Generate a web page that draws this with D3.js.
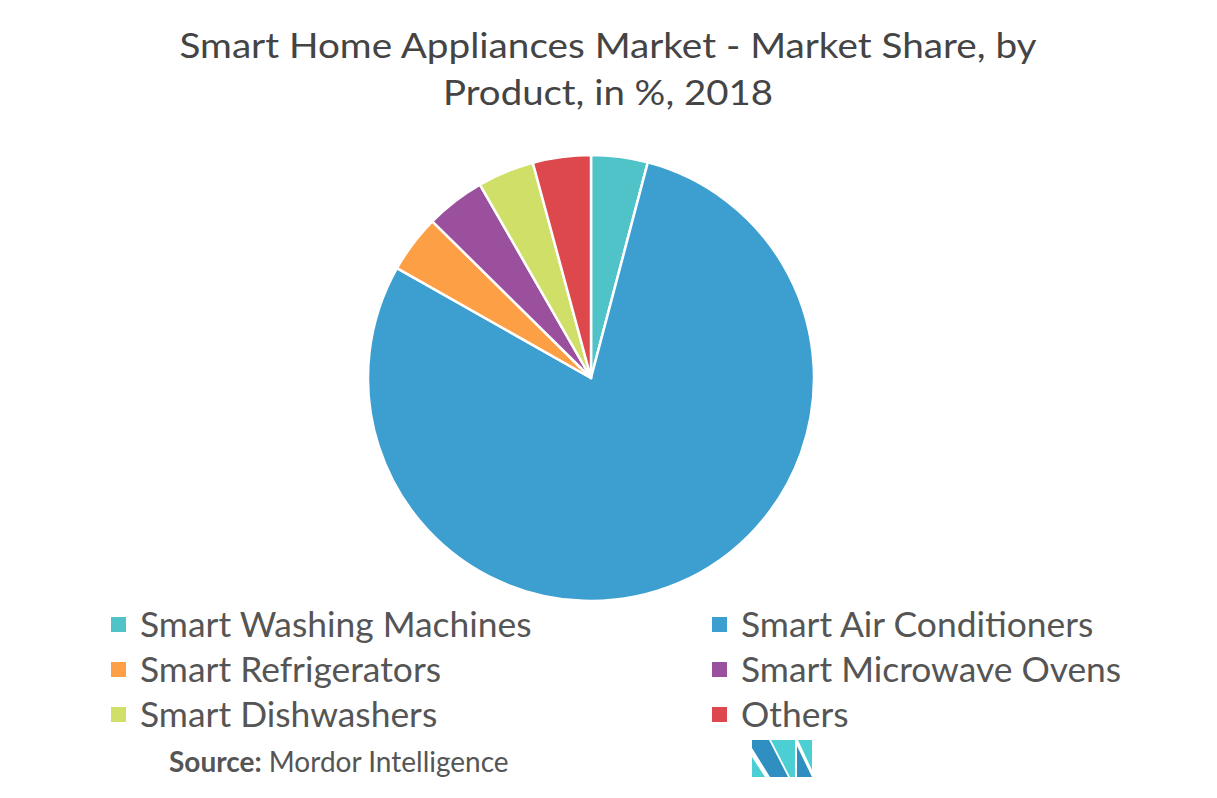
<!DOCTYPE html>
<html><head><meta charset="utf-8">
<script src="https://cdn.jsdelivr.net/npm/d3@7"></script>
<style>body{margin:0;background:#fff;}svg{display:block;}</style>
</head><body>
<svg id="c" width="1217" height="798"></svg>
<script>
const categories = ["Smart Washing Machines","Smart Air Conditioners","Smart Refrigerators","Smart Microwave Ovens","Smart Dishwashers","Others"];
const shares = [4.1, 79.1, 4.2, 4.3, 4.1, 4.2];
const colors = ["#50c3c9","#3d9ed0","#fd9f44","#9b509e","#cfdf68","#dc484b"];
const titleLines = ["Smart Home Appliances Market - Market Share, by","Product, in %, 2018"];

const svg = d3.select("#c");
const font = "Lato, 'Open Sans', sans-serif";
const textColor = "#555";

svg.selectAll("text.title").data(titleLines).enter().append("text")
  .attr("class","title").attr("x",608).attr("y",(d,i)=>58+i*47)
  .attr("text-anchor","middle").attr("font-family",font).attr("font-size",35)
  .attr("fill","#444").text(d=>d)
  .attr("textLength",(d,i)=>i===0?857:330).attr("lengthAdjust","spacingAndGlyphs");

const cx=591, cy=378, r=223;
const pie = d3.pie().sort(null).value(d=>d);
const arc = d3.arc().innerRadius(0).outerRadius(r);
const g = svg.append("g").attr("transform",`translate(${cx},${cy})`);
g.selectAll("path").data(pie(shares)).enter().append("path")
  .attr("d",arc).attr("fill",(d,i)=>colors[i])
  .attr("stroke","#fff").attr("stroke-width",2.5).attr("stroke-linejoin","round");

const cols=[111,712], rows=[637,682,727];
const leg = svg.selectAll("g.leg").data(categories).enter().append("g").attr("class","leg")
  .attr("transform",(d,i)=>`translate(${cols[i%2]},${rows[Math.floor(i/2)]})`);
leg.append("rect").attr("x",0).attr("y",-20).attr("width",15).attr("height",15)
  .attr("fill",(d,i)=>colors[i]);
leg.append("text").attr("x",29).attr("y",0).attr("font-family",font).attr("font-size",35.4)
  .attr("fill",textColor).text(d=>d);

const src = svg.append("text").attr("x",169).attr("y",772).attr("font-family",font)
  .attr("font-size",28).attr("fill",textColor);
src.append("tspan").attr("font-weight","bold").text("Source:");
src.append("tspan").text(" Mordor Intelligence");

// logo
const lg = svg.append("g");
lg.append("polygon").attr("points","752,740 769,740 788,777 770,777 752,748").attr("fill","#2e8fc0");
lg.append("polygon").attr("points","752,757 765,777 752,777").attr("fill","#4ccfd2");
lg.append("polygon").attr("points","771,740 795,740 795,777 790,777").attr("fill","#4ccfd2");
lg.append("polygon").attr("points","797,746 812,777 797,777").attr("fill","#2e8fc0");
lg.append("polygon").attr("points","798,740 812,740 812,770").attr("fill","#4ccfd2");
</script>
</body></html>
